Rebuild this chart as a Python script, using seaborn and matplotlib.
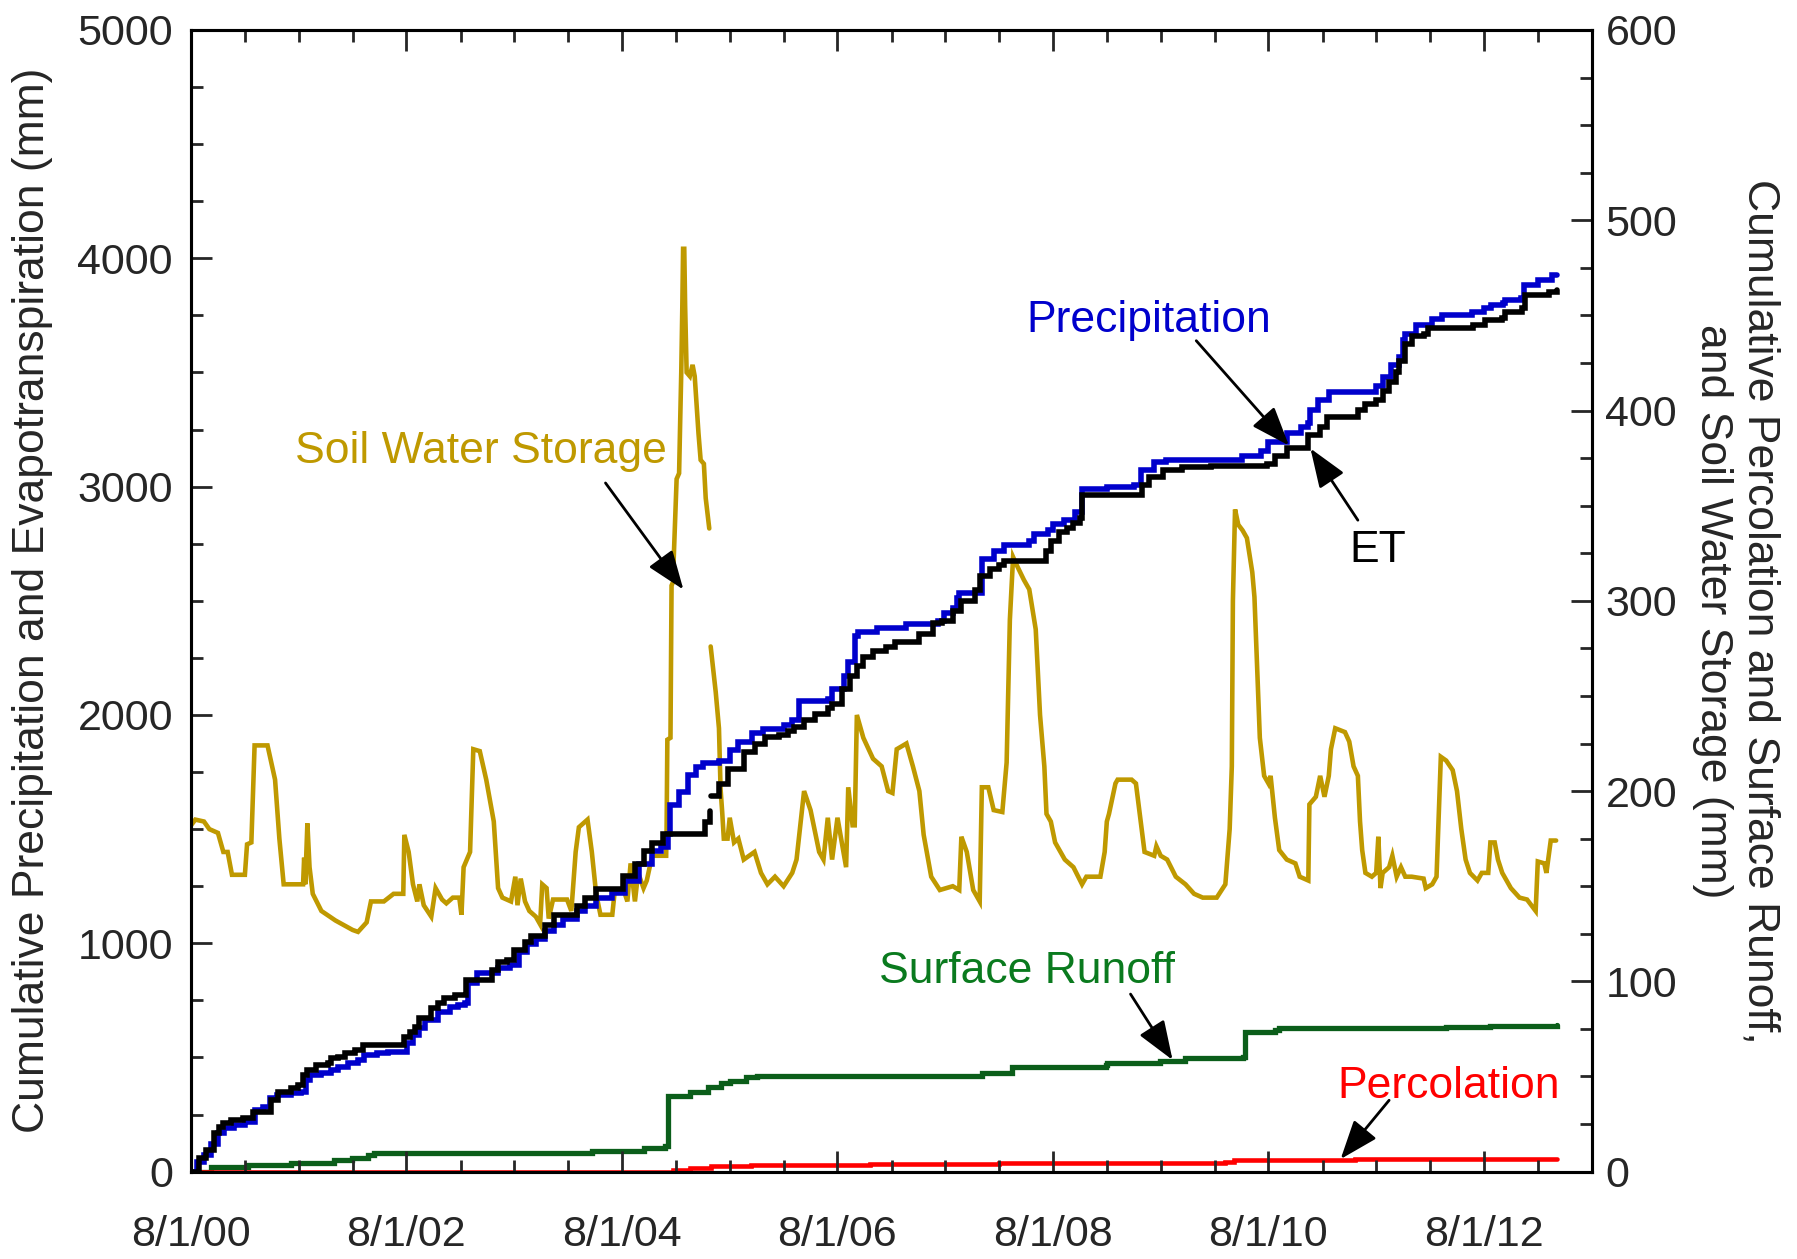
import numpy as np
import pandas as pd
import matplotlib
matplotlib.use("Agg")
import matplotlib.pyplot as plt
import matplotlib.dates as mdates
from matplotlib.ticker import MultipleLocator, FuncFormatter
import seaborn as sns

sns.set_style("ticks")
plt.rcParams["font.family"] = ["Liberation Sans", "DejaVu Sans"]

START = pd.Timestamp("2000-08-01")

# ---------------- data (t = years since 8/1/00) ----------------
precip_t = [0, 0.06, 0.12, 0.19, 0.25, 0.31, 0.40, 0.50, 0.59, 0.67, 0.73, 0.80, 0.93, 1.02, 1.07, 1.10,
            1.21, 1.30, 1.36, 1.46, 1.55, 1.61, 1.73, 1.83, 1.98, 2.00, 2.06, 2.12, 2.17, 2.29, 2.40, 2.48,
            2.54, 2.57, 2.65, 2.76, 2.85, 2.96, 3.04, 3.12, 3.20, 3.29, 3.37, 3.45, 3.58, 3.66, 3.76, 3.91,
            4.03, 4.16, 4.28, 4.36, 4.43, 4.45, 4.53, 4.61, 4.69, 4.75, 4.90, 5.00, 5.08, 5.21, 5.31, 5.50,
            5.58, 5.64, 5.91, 5.95, 6.06, 6.10, 6.16, 6.19, 6.37, 6.64, 6.93, 6.99, 7.07, 7.11, 7.13, 7.28,
            7.34, 7.45, 7.55, 7.78, 7.82, 7.95, 8.00, 8.10, 8.20, 8.27, 8.50, 8.75, 8.82, 8.94, 9.05, 9.68,
            9.75, 9.93, 10.00, 10.17, 10.30, 10.37, 10.39, 10.46, 10.56, 10.92, 11.00, 11.06, 11.14, 11.21,
            11.25, 11.27, 11.37, 11.52, 11.61, 11.89, 12.00, 12.07, 12.18, 12.20, 12.34, 12.37, 12.50,
            12.63, 12.68]
precip_v = [0, 40, 73, 120, 167, 189, 204, 218, 270, 284, 321, 336, 343, 350, 401, 423,
            431, 445, 460, 474, 489, 511, 518, 525, 525, 562, 598, 630, 664, 701, 720, 730,
            737, 825, 869, 869, 891, 905, 960, 997, 1020, 1053, 1080, 1108, 1140, 1163, 1200, 1219,
            1274, 1348, 1403, 1422, 1477, 1607, 1662, 1736, 1773, 1791, 1800, 1847, 1880, 1921, 1939, 1958,
            1976, 2059, 2068, 2114, 2170, 2234, 2345, 2364, 2382, 2400, 2410, 2447, 2470, 2511, 2533, 2533,
            2683, 2719, 2746, 2764, 2791, 2810, 2835, 2855, 2891, 2991, 3000, 3009, 3073, 3109, 3118, 3118,
            3135, 3158, 3195, 3234, 3260, 3279, 3334, 3379, 3415, 3415, 3442, 3479, 3533, 3569,
            3640, 3669, 3706, 3733, 3752, 3766, 3781, 3796, 3803, 3818, 3825, 3883, 3905,
            3927, 3927]

et1_t = [0, 0.077, 0.14, 0.217, 0.263, 0.294, 0.37, 0.48, 0.573, 0.68, 0.74, 0.805, 0.93, 0.99, 1.04,
         1.08, 1.16, 1.27, 1.30, 1.36, 1.425, 1.52, 1.60, 1.95, 1.98, 2.03, 2.075, 2.12, 2.23, 2.29, 2.35,
         2.45, 2.54, 2.556, 2.73, 2.79, 2.85, 2.93, 3.00, 3.10, 3.16, 3.29, 3.37, 3.58, 3.66, 3.76, 3.91,
         4.01, 4.12, 4.20, 4.28, 4.38, 4.73, 4.77, 4.82]
et1_v = [0, 58, 95, 167, 197, 212, 226, 233, 262, 262, 314, 350, 365, 379, 423,
         445, 467, 474, 496, 503, 518, 532, 555, 555, 591, 613, 635, 672, 715, 737, 759,
         774, 774, 840, 840, 883, 920, 927, 970, 1006, 1034, 1080, 1126, 1163, 1200, 1237, 1237,
         1293, 1348, 1403, 1440, 1477, 1477, 1533, 1579]
et2_t = [4.83, 4.90, 4.98, 5.13, 5.23, 5.33, 5.46, 5.54, 5.60, 5.69, 5.79, 5.91, 5.95, 6.04, 6.12, 6.18,
         6.24, 6.33, 6.45, 6.53, 6.70, 6.76, 6.89, 6.97, 7.07, 7.15, 7.28, 7.32, 7.42, 7.50, 7.55, 7.88,
         7.94, 7.98, 8.06, 8.13, 8.19, 8.25, 8.27, 8.79, 8.83, 8.89, 9.02, 9.20, 9.47, 9.99, 10.06, 10.17,
         10.37, 10.48, 10.54, 10.79, 10.83, 10.90, 11.00, 11.06, 11.12, 11.18, 11.21, 11.27, 11.33, 11.44,
         11.48, 11.81, 11.90, 12.01, 12.17, 12.20, 12.35, 12.38, 12.60, 12.68]
et2_v = [1644, 1699, 1764, 1837, 1874, 1902, 1911, 1930, 1948, 1976, 2004, 2031, 2050, 2114, 2170, 2216,
         2253, 2281, 2299, 2318, 2318, 2355, 2401, 2410, 2456, 2501, 2547, 2610, 2640, 2655, 2674, 2674,
         2719, 2764, 2800, 2818, 2840, 2864, 2964, 2964, 3009, 3040, 3073, 3085, 3091, 3097, 3134, 3170,
         3224, 3261, 3306, 3306, 3334, 3360, 3379, 3420, 3460, 3500, 3551, 3624, 3660, 3669,
         3694, 3694, 3708, 3730, 3737, 3766, 3781, 3839, 3854, 3861]

sws1_t = [0.00, 0.04, 0.12, 0.17, 0.25, 0.30, 0.34, 0.38, 0.50, 0.52, 0.56, 0.59, 0.71, 0.78, 0.82, 0.86,
          1.04, 1.05, 1.06, 1.08, 1.10, 1.13, 1.21, 1.34, 1.50, 1.55, 1.63, 1.67, 1.79, 1.88, 1.97, 1.98,
          2.02, 2.06, 2.10, 2.12, 2.16, 2.23, 2.27, 2.33, 2.37, 2.43, 2.49, 2.51, 2.53, 2.59, 2.62, 2.68,
          2.74, 2.81, 2.85, 2.89, 2.97, 3.01, 3.03, 3.06, 3.10, 3.14, 3.20, 3.24, 3.26, 3.30, 3.32, 3.36,
          3.49, 3.53, 3.57, 3.60, 3.68, 3.72, 3.76, 3.80, 3.91, 3.93, 4.01, 4.05, 4.08, 4.12, 4.15, 4.20,
          4.23, 4.28, 4.41, 4.414, 4.421, 4.45, 4.458, 4.46, 4.475, 4.48, 4.507, 4.53, 4.54, 4.55, 4.56,
          4.567, 4.578, 4.586, 4.60, 4.63, 4.655, 4.675, 4.71, 4.73, 4.76, 4.777, 4.81]
sws1_v = [182, 185, 184, 180, 178, 168, 168, 156, 156, 172, 173, 224, 224, 206, 175, 151,
          151, 165, 151, 183, 160, 146, 137, 132, 127, 126, 131, 142, 142, 146, 146, 177,
          168, 151, 142, 151, 140, 134, 149, 143, 141, 144, 144, 135, 160, 168, 222, 221,
          206, 184, 149, 144, 142, 155, 140, 154, 142, 137, 134, 130, 151, 149, 133, 143,
          143, 137, 168, 181, 185, 168, 146, 135, 135, 146, 149, 142, 162, 142, 157, 149,
          153, 166, 166, 180, 227, 228, 292, 308, 310, 322, 364, 367, 394, 420, 455,
          485, 485, 455, 420, 418, 424, 418, 388, 374, 372, 354, 338]
sws2_t = [4.823, 4.85, 4.87, 4.90, 4.915, 4.93, 4.945, 4.98, 5.00, 5.04, 5.08, 5.13, 5.23, 5.29, 5.35,
          5.42, 5.50, 5.58, 5.62, 5.69, 5.75, 5.83, 5.87, 5.91, 5.95, 6.00, 6.08, 6.10, 6.14, 6.16, 6.18,
          6.24, 6.33, 6.41, 6.47, 6.51, 6.55, 6.64, 6.70, 6.76, 6.80, 6.87, 6.95, 7.07, 7.13, 7.15, 7.20,
          7.26, 7.32, 7.34, 7.40, 7.45, 7.53, 7.57, 7.60, 7.63, 7.67, 7.73, 7.78, 7.84, 7.88, 7.92, 7.94,
          7.98, 8.02, 8.11, 8.19, 8.27, 8.31, 8.44, 8.48, 8.50, 8.52, 8.58, 8.60, 8.73, 8.77, 8.81, 8.85,
          8.94, 8.96, 9.00, 9.06, 9.14, 9.23, 9.31, 9.39, 9.52, 9.60, 9.64, 9.66, 9.67, 9.69, 9.72, 9.76,
          9.80, 9.85, 9.87, 9.90, 9.92, 9.96, 10.00, 10.02, 10.06, 10.10, 10.17, 10.25, 10.29, 10.37,
          10.38, 10.44, 10.48, 10.52, 10.56, 10.58, 10.62, 10.71, 10.75, 10.79, 10.83, 10.85, 10.87,
          10.90, 10.96, 11.00, 11.02, 11.04, 11.06, 11.12, 11.15, 11.19, 11.23, 11.27, 11.33, 11.44,
          11.46, 11.52, 11.56, 11.60, 11.65, 11.71, 11.75, 11.79, 11.83, 11.87, 11.94, 11.98, 12.04,
          12.06, 12.10, 12.13, 12.17, 12.25, 12.33, 12.40, 12.48, 12.50, 12.56, 12.58, 12.62, 12.67]
sws2_v = [276, 262, 252, 233, 201, 189, 175, 175, 186, 173, 175, 164, 168, 157, 151,
          155, 150, 157, 164, 200, 190, 168, 164, 186, 164, 186, 160, 202, 182, 182, 240,
          228, 217, 213, 200, 199, 222, 225, 213, 200, 177, 155, 148, 150, 148, 176, 168,
          148, 142, 202, 202, 190, 189, 215, 290, 323, 318, 311, 306, 285, 240, 213, 188,
          184, 173, 164, 160, 151, 155, 155, 168, 184, 188, 204, 206, 206, 204, 186, 168,
          166, 171, 166, 164, 155, 151, 146, 144, 144, 151, 180, 213, 300, 348, 340, 337,
          333, 315, 302, 257, 228, 208, 204, 208, 186, 169, 164, 162, 155, 153,
          193, 197, 208, 197, 208, 222, 233, 231, 226, 213, 208, 184, 169,
          157, 155, 157, 176, 149, 157, 160, 166, 155, 160, 155, 155, 154,
          149, 151, 155, 218, 216, 211, 200, 180, 164, 157, 153, 157, 157,
          173, 173, 164, 157, 149, 144, 143, 137, 163, 162, 157, 174, 174]

runoff_t = [0, 0.19, 0.53, 0.93, 1.18, 1.33, 1.49, 1.64, 1.70, 3.70, 3.72, 4.20, 4.40, 4.43, 4.63, 4.80,
            4.92, 5.00, 5.15, 5.25, 7.32, 7.34, 7.60, 7.62, 7.81, 8.49, 8.50, 8.97, 8.99, 9.21, 9.23,
            9.76, 9.78, 10.06, 10.10, 11.60, 11.65, 12.06, 12.68]
runoff_v = [0, 2.2, 3.5, 4.4, 4.7, 6.1, 7.0, 8.7, 10.0, 10.0, 11.0, 12.2, 13.3, 40.0, 42.0, 44.3,
            46.5, 47.6, 49.9, 50.5, 50.5, 51.6, 52.0, 54.8, 55.1, 56.0, 56.9, 56.9, 58.3, 58.3, 59.9,
            60.0, 73.5, 74.3, 75.4, 75.4, 76.0, 76.5, 76.8]

perc_t = [0, 4.43, 4.47, 4.63, 4.83, 5.20, 6.30, 7.50, 9.60, 9.68, 10.80, 12.68]
perc_v = [0, 0, 1.1, 1.8, 2.9, 3.3, 4.0, 4.4, 5.3, 6.0, 6.4, 6.6]

left_ticks = [0, 1000, 2000, 3000, 4000, 5000]
right_ticks = [0, 100, 200, 300, 400, 500, 600]


def to_date(t):
    return START + pd.to_timedelta(np.asarray(t, dtype=float) * 365.25, unit="D")


def d(t):
    return START + pd.Timedelta(days=float(t) * 365.25)


# ---------------- colours ----------------
BLUE = "#0000CC"
GOLD = "#BF9900"
GREEN_LINE = "#0B5E1A"
GREEN_TEXT = "#0A7A1E"
RED = "#FF0000"
FS = 32
FS_TICK = 31

fig = plt.figure(figsize=(17.97, 12.59), dpi=100, facecolor="white")
ax = fig.add_axes([0.1063, 0.0694, 0.7794, 0.9068])
ax2 = ax.twinx()
ax.set_zorder(ax2.get_zorder() + 1)
ax.patch.set_visible(False)


def draw(axis, t, v, color, width, steps=True):
    kw = dict(x=to_date(t), y=v, ax=axis, color=color, linewidth=width, estimator=None,
              sort=False, legend=False)
    if steps:
        kw["drawstyle"] = "steps-post"
    line_ax = sns.lineplot(**kw)
    line_ax.lines[-1].set_linewidth(width)
    line_ax.lines[-1].set_solid_joinstyle("miter")


# right axis series
draw(ax2, sws1_t, sws1_v, GOLD, 3.3, steps=False)
draw(ax2, sws2_t, sws2_v, GOLD, 3.3, steps=False)
draw(ax2, runoff_t, runoff_v, GREEN_LINE, 3.8)
draw(ax2, perc_t, perc_v, RED, 3.3)

# left axis series
draw(ax, precip_t, precip_v, BLUE, 4.0)
draw(ax, et1_t, et1_v, "black", 4.0)
draw(ax, et2_t, et2_v, "black", 4.0)

# limits
ax.set_xlim(pd.Timestamp("2000-08-01"), pd.Timestamp("2013-08-01"))
ax.set_ylim(0, 5000)
ax2.set_ylim(0, 600)

# ticks
ax.xaxis.set_major_locator(mdates.YearLocator(base=2, month=8, day=1))
ax.xaxis.set_minor_locator(mdates.MonthLocator(bymonth=[2, 8], bymonthday=1))
ax.xaxis.set_major_formatter(FuncFormatter(
    lambda x, pos: (lambda dt: f"{dt.month}/{dt.day}/{dt:%y}")(mdates.num2date(x))))
ax.set_yticks(left_ticks)
ax.yaxis.set_minor_locator(MultipleLocator(250))
ax2.set_yticks(right_ticks)
ax2.yaxis.set_minor_locator(MultipleLocator(25))

ax.tick_params(axis="x", which="both", direction="in", top=True, bottom=True, width=2.0,
               labelsize=FS_TICK, pad=31)
ax.tick_params(axis="x", which="major", length=15)
ax.tick_params(axis="x", which="minor", length=8.5)
ax.tick_params(axis="y", which="both", direction="in", left=True, right=False, width=2.0,
               labelsize=FS_TICK, pad=13)
ax.tick_params(axis="y", which="major", length=15)
ax.tick_params(axis="y", which="minor", length=8.5)
ax2.tick_params(axis="y", which="both", direction="in", left=False, right=True, width=2.0,
                labelsize=FS_TICK, pad=10)
ax2.tick_params(axis="y", which="major", length=15)
ax2.tick_params(axis="y", which="minor", length=8.5)

for a in (ax, ax2):
    for s in a.spines.values():
        s.set_visible(True)
        s.set_color("black")
        s.set_linewidth(2.2)

ax.set_xlabel("")
ax.set_ylabel("Cumulative Precipitation and Evapotranspiration (mm)", fontsize=FS)
ax.yaxis.set_label_coords(-0.1135, 0.5)
ax.yaxis.label.set_verticalalignment("center")
ax2.set_ylabel("Cumulative Percolation and Surface Runoff,\nand Soil Water Storage (mm)", fontsize=FS,
               rotation=270, multialignment="center")
ax2.yaxis.set_label_coords(1.1035, 0.491)
ax2.yaxis.label.set_verticalalignment("center")

# annotations
arrow_kw = dict(arrowstyle="-|>,head_length=24,head_width=9", mutation_scale=1, lw=2.0,
                color="black", shrinkA=0, shrinkB=0)

ax.text(d(2.69), 3102, "Soil Water Storage", color=GOLD, fontsize=FS, ha="center", va="baseline")
ax.annotate("", xy=(d(4.57), 2549), xytext=(d(3.847), 3016), arrowprops=arrow_kw)

ax.text(d(8.89), 3679, "Precipitation", color=BLUE, fontsize=FS, ha="center", va="baseline")
ax.annotate("", xy=(d(10.19), 3180), xytext=(d(9.33), 3639), arrowprops=arrow_kw)

ax.text(d(11.01), 2671, "ET", color="black", fontsize=FS, ha="center", va="baseline")
ax.annotate("", xy=(d(10.39), 3167), xytext=(d(10.83), 2853), arrowprops=arrow_kw)

ax2.text(d(7.76), 99.0, "Surface Runoff", color=GREEN_TEXT, fontsize=FS, ha="center", va="baseline")
ax2.annotate("", xy=(d(9.11), 58.7), xytext=(d(8.72), 93.3), arrowprops=arrow_kw)

ax2.text(d(11.67), 38.7, "Percolation", color=RED, fontsize=FS, ha="center", va="baseline")
ax2.annotate("", xy=(d(10.67), 6.6), xytext=(d(11.12), 37.5), arrowprops=arrow_kw)

fig.savefig("out.png", dpi=100, facecolor="white")
